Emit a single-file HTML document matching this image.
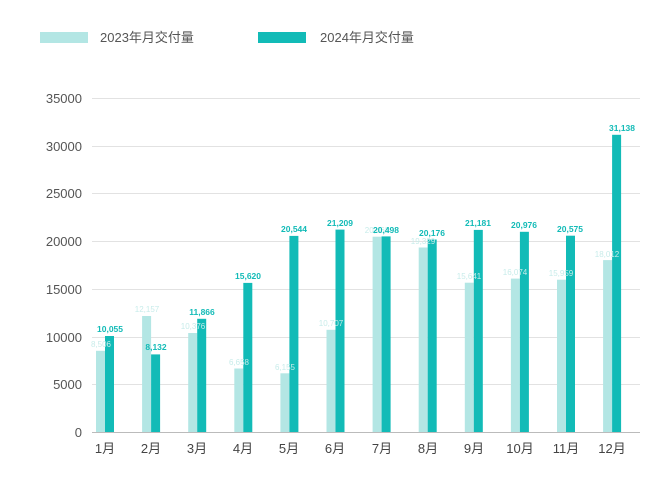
<!DOCTYPE html>
<html><head><meta charset="utf-8"><style>
body{margin:0;background:#fff}
text{font-family:"Liberation Sans","Noto Sans CJK SC",sans-serif}
</style></head><body>
<svg width="660" height="478" xmlns="http://www.w3.org/2000/svg">
<rect x="40" y="32" width="48" height="11" fill="#b3e6e4"/>
<text x="100" y="42" font-size="13" fill="#555">2023年月交付量</text>
<rect x="258" y="32" width="48" height="11" fill="#12bbb7"/>
<text x="320" y="42" font-size="13" fill="#555">2024年月交付量</text>
<g stroke="#e2e2e2" stroke-width="1">
<line x1="92" x2="640" y1="98.5" y2="98.5"/><line x1="92" x2="640" y1="146.5" y2="146.5"/>
<line x1="92" x2="640" y1="193.5" y2="193.5"/><line x1="92" x2="640" y1="241.5" y2="241.5"/>
<line x1="92" x2="640" y1="289.5" y2="289.5"/><line x1="92" x2="640" y1="337.5" y2="337.5"/>
<line x1="92" x2="640" y1="384.5" y2="384.5"/>
</g>
<line x1="92" x2="640" y1="432.5" y2="432.5" stroke="#bbb"/>
<g font-size="13" fill="#555" text-anchor="end">
<text x="82" y="103">35000</text><text x="82" y="151">30000</text><text x="82" y="198">25000</text>
<text x="82" y="246">20000</text><text x="82" y="294">15000</text><text x="82" y="342">10000</text>
<text x="82" y="389">5000</text><text x="82" y="437">0</text>
</g>
<g fill="#b3e6e4">
<rect x="96" y="350.8" width="9" height="81.2"/>
<rect x="142.1" y="316" width="9" height="116"/>
<rect x="188.2" y="333" width="9" height="99"/>
<rect x="234.3" y="368.5" width="9" height="63.5"/>
<rect x="280.4" y="373.3" width="9" height="58.7"/>
<rect x="326.5" y="329.8" width="9" height="102.2"/>
<rect x="372.6" y="236.7" width="9" height="195.3"/>
<rect x="418.7" y="247.5" width="9" height="184.5"/>
<rect x="464.8" y="282.7" width="9" height="149.3"/>
<rect x="510.9" y="278.6" width="9" height="153.4"/>
<rect x="557" y="279.7" width="9" height="152.3"/>
<rect x="603.1" y="260.1" width="9" height="171.9"/>
</g>
<g fill="#12bbb7">
<rect x="105" y="336" width="9" height="96"/>
<rect x="151.1" y="354.4" width="9" height="77.6"/>
<rect x="197.2" y="318.8" width="9" height="113.2"/>
<rect x="243.3" y="282.9" width="9" height="149.1"/>
<rect x="289.4" y="235.9" width="9" height="196.1"/>
<rect x="335.5" y="229.6" width="9" height="202.4"/>
<rect x="381.6" y="236.4" width="9" height="195.6"/>
<rect x="427.7" y="239.5" width="9" height="192.5"/>
<rect x="473.8" y="229.9" width="9" height="202.1"/>
<rect x="519.9" y="231.8" width="9" height="200.2"/>
<rect x="566" y="235.7" width="9" height="196.3"/>
<rect x="612.1" y="134.8" width="9" height="297.2"/>
</g>
<g font-size="8" fill="#c8ecea" text-anchor="middle">
<text x="101" y="347">8,506</text>
<text x="147" y="312">12,157</text>
<text x="193" y="329">10,376</text>
<text x="239" y="365">6,658</text>
<text x="285" y="370">6,155</text>
<text x="331" y="326">10,707</text>
<text x="377" y="233">20,462</text>
<text x="423" y="244">19,329</text>
<text x="469" y="279">15,641</text>
<text x="515" y="275">16,074</text>
<text x="561" y="276">15,959</text>
<text x="607" y="257">18,012</text>
</g>
<g font-size="8.5" font-weight="bold" fill="#12bbb7" text-anchor="middle">
<text x="110" y="332">10,055</text>
<text x="156" y="350">8,132</text>
<text x="202" y="315">11,866</text>
<text x="248" y="279">15,620</text>
<text x="294" y="232">20,544</text>
<text x="340" y="226">21,209</text>
<text x="386" y="233">20,498</text>
<text x="432" y="236">20,176</text>
<text x="478" y="226">21,181</text>
<text x="524" y="228">20,976</text>
<text x="570" y="232">20,575</text>
<text x="622" y="131">31,138</text>
</g>
<g font-size="13" fill="#444" text-anchor="middle">
<text x="105" y="453">1月</text><text x="151" y="453">2月</text><text x="197" y="453">3月</text>
<text x="243" y="453">4月</text><text x="289" y="453">5月</text><text x="335" y="453">6月</text>
<text x="382" y="453">7月</text><text x="428" y="453">8月</text><text x="474" y="453">9月</text>
<text x="520" y="453">10月</text><text x="566" y="453">11月</text><text x="612" y="453">12月</text>
</g>
</svg>
</body></html>
